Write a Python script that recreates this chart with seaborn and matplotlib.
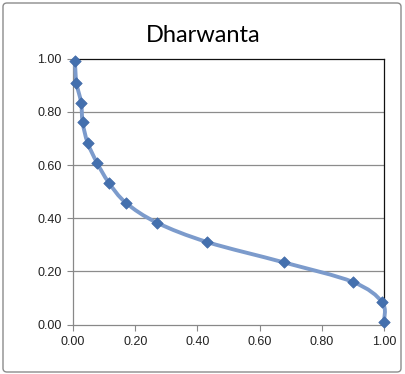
import numpy as np
import pandas as pd
import matplotlib
matplotlib.use("Agg")
import matplotlib.pyplot as plt
import seaborn as sns
from matplotlib.path import Path
from matplotlib.patches import PathPatch, FancyBboxPatch

title = "Dharwanta"
x_vals = [0.006, 0.011, 0.026, 0.031, 0.047, 0.077, 0.115, 0.170, 0.270, 0.432, 0.677, 0.900, 0.994, 1.000]
y_vals = [0.992, 0.910, 0.835, 0.760, 0.684, 0.609, 0.534, 0.458, 0.383, 0.310, 0.234, 0.160, 0.084, 0.008]
ticks = [0.0, 0.2, 0.4, 0.6, 0.8, 1.0]
tick_labels = ["0.00", "0.20", "0.40", "0.60", "0.80", "1.00"]

df = pd.DataFrame({"x": x_vals, "y": y_vals})

sns.set_theme(style="white")
plt.rcParams['font.family'] = ['Liberation Sans', 'DejaVu Sans']

fig = plt.figure(figsize=(4.05, 3.74), dpi=100)
ax = fig.add_axes([73/405, 1-324.5/374, (384-73)/405, (324.5-58.7)/374])

# Excel-like smooth line (Bezier segments through data points)
pts = np.column_stack([x_vals, y_vals])
n = len(pts)
verts = [tuple(pts[0])]
codes = [Path.MOVETO]
t = 1/6
for i in range(n-1):
    p0 = pts[i-1] if i > 0 else pts[i]
    p1 = pts[i]
    p2 = pts[i+1]
    p3 = pts[i+2] if i+2 < n else pts[i+1]
    c1 = p1 + (p2 - p0) * t
    c2 = p2 - (p3 - p1) * t
    verts += [tuple(c1), tuple(c2), tuple(p2)]
    codes += [Path.CURVE4]*3
ax.add_patch(PathPatch(Path(verts, codes), fill=False, edgecolor="#7C9BCC",
                       lw=2.8, zorder=3, capstyle="round", joinstyle="round",
                       clip_on=False))

sns.scatterplot(data=df, x="x", y="y", marker="D", s=34, color="#4470AE",
                edgecolor="#3F68A6", linewidth=0.5, ax=ax, zorder=4, clip_on=False)

ax.set_xlim(0, 1)
ax.set_ylim(0, 1)
ax.set_xticks(ticks)
ax.set_xticklabels(tick_labels)
ax.set_yticks(ticks)
ax.set_yticklabels(tick_labels)
ax.set_xlabel("")
ax.set_ylabel("")
ax.tick_params(axis="both", labelsize=9, colors="#222222", length=4,
               width=0.8, direction="out", pad=4)
ax.tick_params(axis="both", color="#888888")
ax.tick_params(axis="x", bottom=True)
ax.tick_params(axis="y", left=True)
for yv in ticks[1:-1]:
    ax.axhline(yv, color="#8C8C8C", lw=0.9, zorder=1)
for s in ["left", "bottom"]:
    ax.spines[s].set_color("#888888")
    ax.spines[s].set_linewidth(0.9)
for s in ["top", "right"]:
    ax.spines[s].set_color("#111111")
    ax.spines[s].set_linewidth(0.9)

fig.text(203/405, 1-35/374, title, ha="center", va="center", fontsize=17,
         family=['Lato', 'DejaVu Sans'], color="#000000")

border = FancyBboxPatch((3/405, 2/374), 398/405, 369/374, boxstyle="round,pad=0,rounding_size=0.01",
                        transform=fig.transFigure, fill=False, edgecolor="#8C8C8C", lw=1.0)
fig.patches.append(border)

fig.savefig("out.png", dpi=100)
